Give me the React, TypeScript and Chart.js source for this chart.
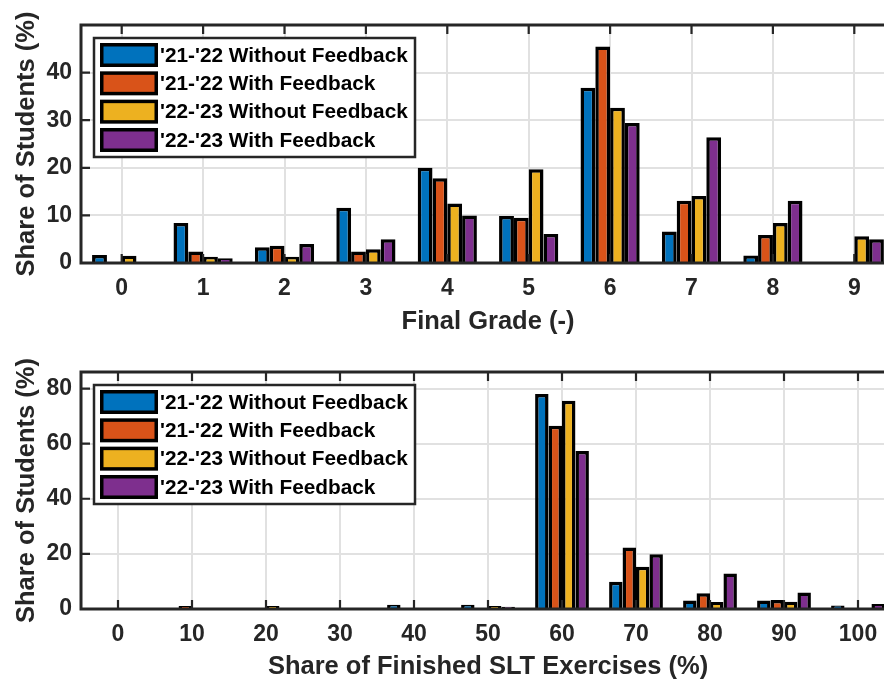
import React, { useEffect, useRef } from "react";
import { Chart, registerables } from "chart.js";

Chart.register(...registerables);

// ---------- Data ----------
const seriesLabels = [
  "'21-'22 Without Feedback",
  "'21-'22 With Feedback",
  "'22-'23 Without Feedback",
  "'22-'23 With Feedback",
];
const seriesColors = ["#0072BD", "#D95319", "#EDB120", "#7E2F8E"];

// Top: final grade
const gradeCategories = ["0", "1", "2", "3", "4", "5", "6", "7", "8", "9"];
const grade2122Without = [1.7, 8.4, 3.3, 11.6, 20.0, 9.9, 36.8, 6.6, 1.6, 0];
const grade2122With = [0, 2.4, 3.6, 2.4, 17.8, 9.5, 45.5, 13.1, 5.9, 0];
const grade2223Without = [1.5, 1.3, 1.3, 2.9, 12.5, 19.7, 32.6, 14.1, 8.4, 5.6];
const grade2223With = [0, 1.0, 4.0, 5.0, 10.0, 6.1, 29.4, 26.4, 13.1, 5.0];

// Bottom: share of finished SLT exercises
const sltCategories = ["0", "10", "20", "30", "40", "50", "60", "70", "80", "90", "100"];
const slt2122Without = [0, 0, 0, 0, 1.5, 1.5, 78.0, 9.9, 3.1, 3.1, 1.3];
const slt2122With = [0, 1.1, 0, 0, 0, 0, 66.5, 22.3, 5.7, 3.3, 0];
const slt2223Without = [0, 0, 1.1, 0, 0, 1.1, 75.6, 15.3, 2.5, 2.6, 0];
const slt2223With = [0, 0, 0, 0, 0, 0.8, 57.3, 19.9, 12.9, 6.0, 1.8];

const topYMax = 50;
const topYStep = 10;
const bottomYMax = 86;
const bottomYStep = 20;

// ---------- Styling ----------
const FONT = "'Liberation Sans', Arial, Helvetica, sans-serif";
const AXIS_COLOR = "#262626";
const GRID_COLOR = "#e1e1e1";

const boxPlugin = {
  id: "matlabBox",
  afterDatasetsDraw(chart: any) {
    const { ctx, chartArea: a, scales } = chart;
    const x = scales.x;
    const y = scales.y;
    ctx.save();
    ctx.strokeStyle = AXIS_COLOR;
    ctx.lineWidth = 2.2;
    ctx.beginPath();
    x.ticks.forEach((_: any, i: number) => {
      const px = x.getPixelForTick(i);
      ctx.moveTo(px, a.bottom);
      ctx.lineTo(px, a.bottom - 9);
      ctx.moveTo(px, a.top);
      ctx.lineTo(px, a.top + 9);
    });
    y.ticks.forEach((_: any, i: number) => {
      const py = y.getPixelForTick(i);
      ctx.moveTo(a.left, py);
      ctx.lineTo(a.left + 9, py);
      ctx.moveTo(a.right, py);
      ctx.lineTo(a.right - 9, py);
    });
    ctx.stroke();
    ctx.lineWidth = 3;
    ctx.strokeRect(a.left, a.top, a.right - a.left, a.bottom - a.top);
    ctx.restore();
  },
};

const legendPlugin = {
  id: "matlabLegend",
  afterDraw(chart: any) {
    const { ctx, chartArea: a } = chart;
    const left = a.left + 13;
    const top = a.top + 13;
    const w = 321;
    const h = 119;
    ctx.save();
    ctx.fillStyle = "#ffffff";
    ctx.fillRect(left, top, w, h);
    ctx.strokeStyle = AXIS_COLOR;
    ctx.lineWidth = 2.5;
    ctx.strokeRect(left, top, w, h);
    ctx.font = `bold 20.8px ${FONT}`;
    ctx.textBaseline = "middle";
    ctx.textAlign = "left";
    chart.data.datasets.forEach((ds: any, i: number) => {
      const sy = top + 5 + i * 28.33;
      const sx = left + 6;
      ctx.fillStyle = "#000";
      ctx.fillRect(sx, sy, 58, 24);
      ctx.fillStyle = ds.backgroundColor;
      ctx.fillRect(sx + 3.5, sy + 3.5, 51, 17);
      ctx.fillStyle = "#000";
      ctx.fillText(ds.label, left + 66, sy + 13);
    });
    ctx.restore();
  },
};

function makeConfig(
  categories: string[],
  series: number[][],
  yMax: number,
  yStep: number,
  xTitle: string,
  padTop: number,
  xAxisHeight: number,
  xTitlePadBottom: number
): any {
  return {
    type: "bar",
    data: {
      labels: categories,
      datasets: series.map((vals, i) => ({
        label: seriesLabels[i],
        data: vals,
        backgroundColor: seriesColors[i],
        borderColor: "#000000",
        borderWidth: 3.5,
        borderSkipped: "start",
        categoryPercentage: 0.727,
        barPercentage: 1.0,
      })),
    },
    options: {
      responsive: false,
      animation: false,
      layout: { padding: { top: padTop, right: 5, left: 0, bottom: 0 } },
      plugins: { legend: { display: false }, tooltip: { enabled: false } },
      scales: {
        x: {
          grid: { offset: false, color: GRID_COLOR, lineWidth: 2, drawTicks: false },
          border: { display: false },
          ticks: {
            font: { family: FONT, size: 23, weight: "bold" },
            color: AXIS_COLOR,
            padding: 12,
            maxRotation: 0,
            autoSkip: false,
          },
          title: {
            display: true,
            text: xTitle,
            font: { family: FONT, size: 25.5, weight: "bold" },
            color: AXIS_COLOR,
            padding: { top: 0, bottom: xTitlePadBottom },
          },
          afterFit: (s: any) => {
            s.height = xAxisHeight;
          },
        },
        y: {
          min: 0,
          max: yMax,
          grid: { color: GRID_COLOR, lineWidth: 2, drawTicks: false },
          border: { display: false },
          ticks: {
            stepSize: yStep,
            includeBounds: false,
            font: { family: FONT, size: 23, weight: "bold" },
            color: AXIS_COLOR,
            padding: 9,
            callback: (v: any) => (v >= yMax ? null : v),
          },
          title: {
            display: true,
            text: "Share of Students (%)",
            font: { family: FONT, size: 25.5, weight: "bold" },
            color: AXIS_COLOR,
            padding: { top: 12, bottom: 0 },
          },
          afterFit: (s: any) => {
            s.width = 81;
          },
        },
      },
    },
    plugins: [boxPlugin, legendPlugin],
  };
}

export default function App() {
  const topRef = useRef<HTMLCanvasElement>(null);
  const botRef = useRef<HTMLCanvasElement>(null);

  useEffect(() => {
    const c1 = new Chart(
      topRef.current as HTMLCanvasElement,
      makeConfig(
        gradeCategories,
        [grade2122Without, grade2122With, grade2223Without, grade2223With],
        topYMax,
        topYStep,
        "Final Grade (-)",
        25,
        77,
        3
      )
    );
    const c2 = new Chart(
      botRef.current as HTMLCanvasElement,
      makeConfig(
        sltCategories,
        [slt2122Without, slt2122With, slt2223Without, slt2223With],
        bottomYMax,
        bottomYStep,
        "Share of Finished SLT Exercises (%)",
        32,
        71,
        -2
      )
    );
    return () => {
      c1.destroy();
      c2.destroy();
    };
  }, []);

  return (
    <div
      style={{
        position: "fixed",
        left: 0,
        top: 0,
        width: 884,
        height: 680,
        overflow: "hidden",
        background: "#ffffff",
      }}
    >
      <canvas ref={topRef} width={900} height={340} style={{ display: "block" }} />
      <canvas ref={botRef} width={900} height={340} style={{ display: "block" }} />
    </div>
  );
}
